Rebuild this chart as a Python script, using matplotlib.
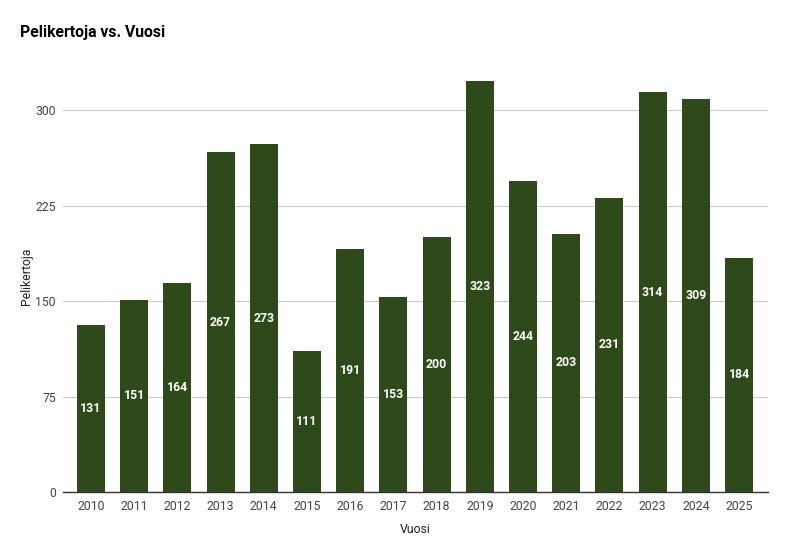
import matplotlib
matplotlib.use("Agg")
import matplotlib.pyplot as plt

years = ["2010", "2011", "2012", "2013", "2014", "2015", "2016", "2017",
         "2018", "2019", "2020", "2021", "2022", "2023", "2024", "2025"]
values = [131, 151, 164, 267, 273, 111, 191, 153, 200, 323, 244, 203, 231, 314, 309, 184]
yticks = [0, 75, 150, 225, 300]

plt.rcParams['font.family'] = ['Roboto', 'DejaVu Sans']

W, H = 792, 546
fig = plt.figure(figsize=(W / 100, H / 100), dpi=100)
left, right, top, bottom = 63, 768, 60, 492
ax = fig.add_axes([left / W, 1 - bottom / H, (right - left) / W, (bottom - top) / H])

x = list(range(len(years)))
bars = ax.bar(x, values, width=0.65, color="#2f4a1a", zorder=3)
for xi, v in zip(x, values):
    ax.text(xi, v / 2, str(v), ha="center", va="center", color="white",
            fontsize=8.8, fontweight="bold", zorder=4)

ax.set_xlim(-0.648, 15.67)
ax.set_ylim(0, (bottom - top) / ((492 - 110) / 300))
ax.set_yticks(yticks)
ax.set_yticklabels([str(t) for t in yticks])
ax.set_xticks(x)
ax.set_xticklabels(years)
ax.grid(axis="y", color="#cccccc", linewidth=0.8, zorder=0)
for s in ["top", "right", "left"]:
    ax.spines[s].set_visible(False)
ax.spines["bottom"].set_color("#333333")
ax.spines["bottom"].set_linewidth(1.0)
ax.spines["bottom"].set_zorder(5)
ax.tick_params(axis="both", length=0, labelsize=8.8, colors="#444444")
ax.tick_params(axis="y", pad=5)
ax.tick_params(axis="x", pad=6)

ax.set_xlabel("Vuosi", fontsize=8.8, color="#222222", labelpad=7)
ax.set_ylabel("Pelikertoja", fontsize=8.8, color="#222222")
ax.yaxis.set_label_coords(-(63 - 33) / (right - left), 0.5)

fig.text(20 / W, 1 - 33 / H, "Pelikertoja vs. Vuosi", fontsize=11.3, fontweight="bold",
         color="#000000", ha="left", va="center")

fig.savefig("out.png", dpi=100)
